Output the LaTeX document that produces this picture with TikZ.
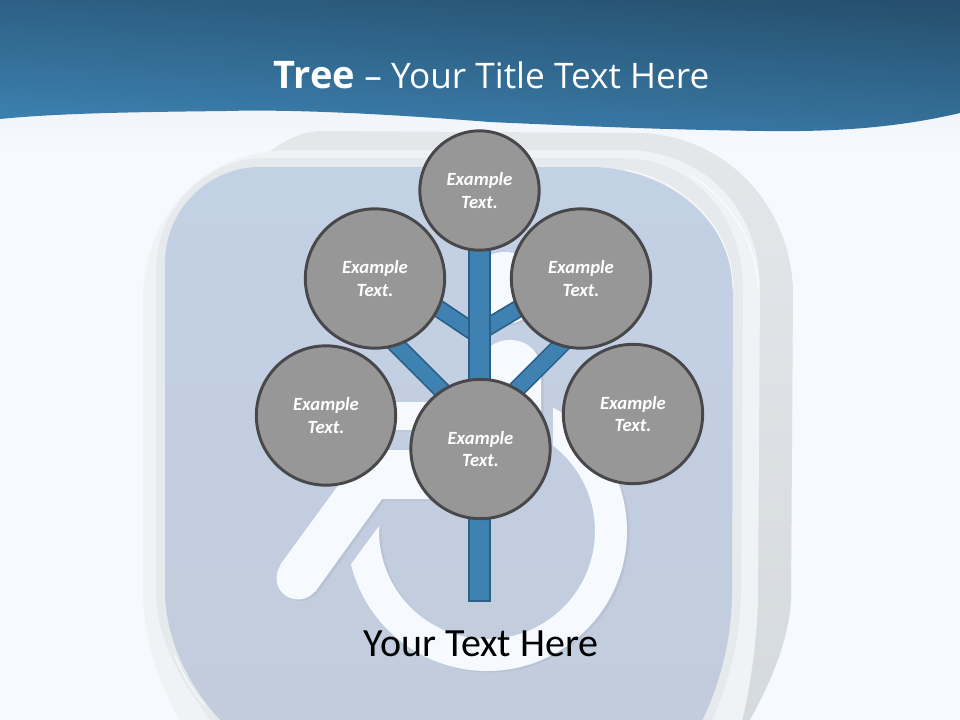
\documentclass[tikz,border=0pt]{standalone}
\usepackage{fontspec}
\setmainfont{Carlito}
\newfontfamily\titlefont{Open Sans}
\usetikzlibrary{calc}
\definecolor{pagebg}{HTML}{F6FAFE}
\definecolor{pagefade}{HTML}{F0F3F7}
\definecolor{barfill}{HTML}{3F81B1}
\definecolor{barline}{HTML}{2A5F88}
\definecolor{discfill}{HTML}{989798}
\definecolor{discline}{HTML}{48484B}
\definecolor{glyphshade}{HTML}{B9C3D3}
\definecolor{extrudetop}{HTML}{E4E7EA}
\definecolor{extrudebot}{HTML}{D5DADE}
\definecolor{framelight}{HTML}{F0F3F5}
\definecolor{framebevel}{HTML}{E7EAEC}
\definecolor{paneltop}{HTML}{C3D1E5}
\definecolor{panelbot}{HTML}{C2CCDC}
\definecolor{headdark}{HTML}{26506E}
\definecolor{headlight}{HTML}{3D82B2}
\tikzset{
  x=.75bp,y=-.75bp,
  disc/.style={circle,draw=discline,line width=2.2bp,fill=discfill,
    text=white,inner sep=0pt,align=center,font=\fontsize{14bp}{17.1bp}\selectfont\bfseries\itshape},
  bigdisc/.style={disc,minimum size=104.5bp},
  smalldisc/.style={disc,minimum size=89.5bp},
  trunkbar/.style={draw=barline,line width=1.3bp,double=barfill,double distance=14.6bp,line cap=butt},
  twigbar/.style={draw=barline,line width=1.3bp,double=barfill,double distance=10.9bp,line cap=butt},
  glint/.style={draw=white,line width=.7bp,opacity=.85},
}
\begin{document}
\begin{tikzpicture}
\useasboundingbox (0,0) rectangle (960,720);
\clip (0,0) rectangle (960,720);
\fill[pagebg] (0,0) rectangle (960,720);
\shade[top color=pagefade,bottom color=pagebg] (0,105) rectangle (960,150);
% extrusion
\shade[top color=extrudetop,bottom color=extrudebot]
  (268,153) .. controls (285,140) and (300,132) .. (320,131) -- (640,133)
  .. controls (730,136) and (793,210) .. (793,295) -- (791,600)
  .. controls (789,640) and (770,685) .. (747,725) -- (300,725) -- cycle;
% front frame
\fill[framelight]
  (143,300) .. controls (143,215) and (205,150) .. (290,150) -- (625,150)
  .. controls (700,150) and (760,205) .. (760,290) -- (758,600)
  .. controls (757,640) and (750,690) .. (741,725) -- (182,725)
  .. controls (160,685) and (143,640) .. (143,590) -- cycle;
% bevel
\fill[framebevel]
  (156,270) .. controls (156,210) and (205,158) .. (265,158) -- (620,158)
  .. controls (690,158) and (743,212) .. (743,290) -- (741,590)
  .. controls (741,640) and (728,685) .. (710,725) -- (214,725)
  .. controls (180,680) and (156,640) .. (156,590) -- cycle;
% panel
\shade[top color=paneltop,bottom color=panelbot]
  (165,263) .. controls (165,210) and (208,167) .. (260,167) -- (590,167)
  .. controls (660,167) and (733,215) .. (733,290) -- (732,590)
  .. controls (732,640) and (720,685) .. (700,725) -- (225,725)
  .. controls (190,690) and (165,640) .. (165,590) -- cycle;
\draw[glint] (625,170) .. controls (680,180) and (733,225) .. (733,290);
\draw[glint] (690,175) .. controls (725,195) and (758,240) .. (758,290);
\draw[glint] (175,655) .. controls (182,675) and (195,695) .. (205,705);
% glyph shadow then glyph
\def\glyph{%
  \begin{scope}
    \clip (553,300) -- (900,300) -- (900,850) -- (250,850) -- (300,634) -- (420,470) -- (553,470) -- cycle;
    \fill[even odd rule] (487,531) circle[radius=140] (487,531) circle[radius=108];
  \end{scope}
  \fill (298,578) circle[radius=21.5];
  \fill (505,288) circle[radius=36];
  \fill (280,565) -- (364,450) -- (480,450) -- (480,430) -- (385,430) -- (385,402) -- (480,402) -- (480,372)
     .. controls (480,352) and (492,340) .. (510,340) .. controls (528,340) and (541,352) .. (541,372)
     -- (541,470) -- (500,499.5) -- (382,499) -- (315,592) -- cycle;
}
\begin{scope}[glyphshade,shift={(2.5,1.5)}]\glyph\end{scope}
\begin{scope}[pagebg]\glyph\end{scope}
% header
\shade[top color=headdark,bottom color=headlight,shading angle=-4]
  (0,0) -- (960,0) -- (960,113) .. controls (900,127) and (840,132) .. (765,131)
  .. controls (680,130) and (600,127) .. (490,122)
  .. controls (400,115) and (300,109) .. (226,111)
  .. controls (140,112) and (60,113) .. (0,119) -- cycle;
\node[white,font=\titlefont\fontsize{26.4bp}{30bp}\selectfont] (title) at (491.5,75) {{\fontsize{28.5bp}{30bp}\selectfont\bfseries Tree} – Your Title Text Here};
% tree
\coordinate (root) at (479.5,601);
\coordinate (rootl) at (468,601);
\coordinate (rootr) at (491,601);
\coordinate (jointul) at (479.5,336);
\coordinate (jointur) at (479.5,332);
\coordinate (jointll) at (480,428.5);
\coordinate (jointlr) at (480,426);
\coordinate (anchorul) at (375,266);
\coordinate (anchorur) at (581,271);
\coordinate (anchorll) at (375,323.5);
\coordinate (anchorlr) at (581,325);
\coordinate (trunktop) at (479.5,245);
\draw[twigbar] (anchorul) -- (jointul);
\draw[twigbar] (anchorur) -- (jointur);
\draw[twigbar] (anchorll) -- (jointll);
\draw[twigbar] (anchorlr) -- (jointlr);
\draw[trunkbar] (trunktop) -- (root);
\draw[barline,line width=1.3bp] (rootl) -- (rootr);
\node[smalldisc] (top) at (479.5,190.5) {Example\\Text.};
\node[bigdisc] (ul) at (375,278.5) {Example\\Text.};
\node[bigdisc] (ur) at (581,278.5) {Example\\Text.};
\node[bigdisc] (ll) at (326,415.5) {Example\\Text.};
\node[bigdisc] (lr) at (633,414) {Example\\Text.};
\node[bigdisc] (mid) at (480.5,449) {Example\\Text.};
\node[black,font=\fontsize{30bp}{34bp}\selectfont] (caption) at (481,644) {Your Text Here};
\end{tikzpicture}
\end{document}
